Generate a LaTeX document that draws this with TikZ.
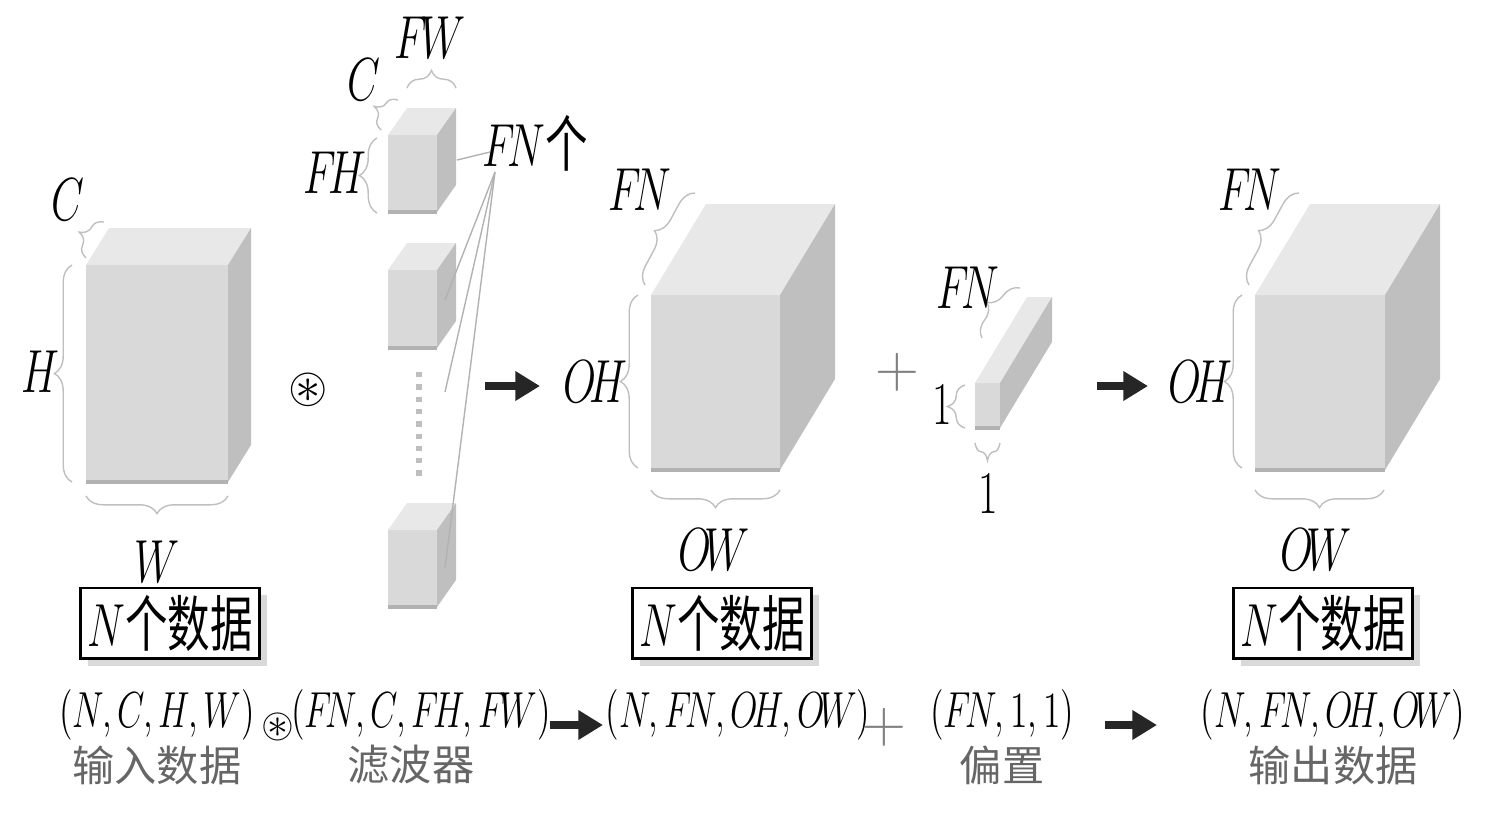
\documentclass[tikz,border=0pt]{standalone}
\usepackage{amssymb}
\usepackage{fontspec}
\newfontfamily\cjk{Noto Sans CJK SC}
\usetikzlibrary{decorations.pathreplacing,arrows.meta,shadows}
\newcommand{\nar}[1]{\scalebox{0.7}[1]{#1}}
\tikzstyle{lbl}=[font=\LARGE, inner sep=1pt]
\tikzstyle{brc}=[draw=gray!50, decorate, decoration={brace, amplitude=5pt}]
\tikzstyle{conv}=[-{Triangle[length=7pt,width=8pt]}, line width=2.2pt, black!85]
\tikzstyle{numbox}=[draw, thick, fill=white, font=\LARGE, inner sep=2pt, drop shadow={opacity=0.3}]
\tikzstyle{cn}=[font=\cjk\large, text=gray!80!black]
\tikzstyle{shp}=[font=\Large, inner sep=1pt]
% front face lower-left (x,y), width, height, depth offset (dx,dy), in pixels
\newcommand{\block}[6]{
  \fill[gray!30] (#1,#2) rectangle ++(#3,#4);
  \fill[gray!18] (#1,#2+#4) -- ++(#5,#6) -- ++(#3,0) -- ++(-#5,-#6) -- cycle;
  \fill[gray!50] (#1+#3,#2) -- ++(#5,#6) -- ++(0,#4) -- ++(-#5,-#6) -- cycle;
  \draw[gray!60, line width=1.2pt] (#1,#2) -- ++(#3,0);
}
\begin{document}
\begin{tikzpicture}[x=0.01cm, y=-0.01cm]
\useasboundingbox (0,0) rectangle (1487,814);
% input data
\block{86}{482}{142}{-217}{23}{-37}
\draw[brc] (86,258) -- (104,222);
\draw[brc] (72,482) -- (72,265);
\draw[brc] (228,496) -- (86,496);
\node[lbl] (c1) at (68,200) {\nar{$C$}};
\node[lbl] (h1) at (40,372) {\nar{$H$}};
\node[lbl] (w1) at (157,562) {\nar{$W$}};
\node[numbox] (n1) at (170,623) {\nar{$N${\cjk 个数据}}};
\node[font=\Large] (ast1) at (308,390) {$\circledast$};
% filters
\block{388}{212}{49}{-77}{19}{-27}
\block{388}{348}{49}{-78}{19}{-27}
\block{388}{607}{49}{-77}{19}{-27}
\draw[gray!50, dotted, line width=1.5pt] (419,372) -- (419,478);
\draw[brc] (407,88) -- (456,88);
\draw[brc] (381,130) -- (398,100);
\draw[brc] (377,213) -- (377,138);
\node[lbl] (fw) at (430,38) {\nar{$F\!W$}};
\node[lbl] (c2) at (364,80) {\nar{$C$}};
\node[lbl] (fh) at (335,173) {\nar{$F\!H$}};
\node[lbl] (fn) at (535,143) {\nar{$F\!N${\cjk 个}}};
\coordinate (f1) at (457,160);
\coordinate (f2) at (445,300);
\coordinate (f3) at (445,392);
\coordinate (f4) at (445,568);
\draw[gray!60] (f1) -- (490,152);
\foreach \t in {f2,f3,f4} \draw[gray!60] (\t) -- (495,172);
\draw[conv] (485,386) -- (540,386);
% output of convolution
\block{651}{470}{129}{-175}{55}{-91}
\draw[brc] (645,285) -- (695,193);
\draw[brc] (638,468) -- (638,295);
\draw[brc] (780,490) -- (651,490);
\node[lbl] (fn2) at (640,190) {\nar{$F\!N$}};
\node[lbl] (oh2) at (595,382) {\nar{$O\!H$}};
\node[lbl] (ow2) at (714,550) {\nar{$O\!W$}};
\node[numbox] (n2) at (722,623) {\nar{$N${\cjk 个数据}}};
\node[font=\LARGE, text=gray] (plus1) at (897,372) {$+$};
% bias
\block{975}{428}{25}{-45}{52}{-86}
\draw[brc] (982,338) -- (1020,288);
\draw[brc] (965,428) -- (965,385);
\draw[brc] (1000,443) -- (975,443);
\node[lbl] (fn3) at (968,288) {\nar{$F\!N$}};
\node[lbl] (one1) at (942,405) {\nar{$1$}};
\node[lbl] (one2) at (988,494) {\nar{$1$}};
\draw[conv] (1097,386) -- (1148,386);
% output data
\block{1255}{470}{130}{-175}{55}{-91}
\draw[brc] (1249,285) -- (1299,193);
\draw[brc] (1242,468) -- (1242,295);
\draw[brc] (1384,490) -- (1255,490);
\node[lbl] (fn4) at (1250,190) {\nar{$F\!N$}};
\node[lbl] (oh4) at (1200,382) {\nar{$O\!H$}};
\node[lbl] (ow4) at (1316,550) {\nar{$O\!W$}};
\node[numbox] (n4) at (1323,623) {\nar{$N${\cjk 个数据}}};
% shapes in formula form
\node[shp] (s1) at (157,715) {\nar{$(N,C,H,W)$}};
\node[cn] (t1) at (157,765) {输入数据};
\node[font=\large] (ast2) at (278,727) {$\circledast$};
\node[shp] (s2) at (421,715) {\nar{$(F\!N,C,F\!H,F\!W)$}};
\node[cn] (t2) at (411,765) {滤波器};
\draw[conv] (550,725) -- (603,725);
\node[shp] (s3) at (738,715) {\nar{$(N,F\!N,O\!H,O\!W)$}};
\node[font=\LARGE, text=gray] (plus2) at (884,727) {$+$};
\node[shp] (s4) at (1002,715) {\nar{$(F\!N,1,1)$}};
\node[cn] (t4) at (1002,765) {偏置};
\draw[conv] (1105,725) -- (1157,725);
\node[shp] (s5) at (1333,715) {\nar{$(N,F\!N,O\!H,O\!W)$}};
\node[cn] (t5) at (1333,765) {输出数据};
\end{tikzpicture}
\end{document}
